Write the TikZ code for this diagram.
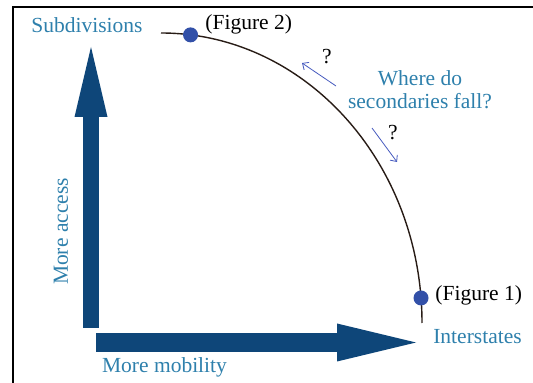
\documentclass[tikz,border=0pt]{standalone}
\usepackage{fontspec}
\setmainfont{Liberation Serif}
\usetikzlibrary{arrows.meta}
\usetikzlibrary{positioning,calc}
\definecolor{navy}{RGB}{14,70,121}
\definecolor{lblblue}{RGB}{46,128,172}
\definecolor{dotblue}{RGB}{50,80,168}
\definecolor{hintblue}{RGB}{70,90,190}
\definecolor{curvebrown}{RGB}{40,28,22}
\tikzstyle{fat} = [draw=navy, line cap=butt]
\tikzstyle{lbl} = [text=lblblue, inner sep=0pt, font=\fontsize{21.5}{23}\selectfont]
\tikzstyle{fig} = [text=black, inner sep=0pt, font=\fontsize{21.5}{23}\selectfont]
\tikzstyle{dot} = [circle, fill=dotblue, minimum size=15pt, inner sep=0pt]
\tikzstyle{hint} = [draw=hintblue, line width=0.8pt,
    -{Straight Barb[length=5pt,width=9pt]}]

\begin{document}
\begin{tikzpicture}[x=1pt,y=1pt]
  \useasboundingbox (0,0) rectangle (533,383);

  % frame
  \draw[line width=1.8pt] (12.7,0) -- (12.7,376) -- (533,376);

  % axes
  \coordinate (o1) at (91,55);
  \coordinate (up) at (91,336);
  \coordinate (o2) at (96,40.5);
  \coordinate (rt) at (416,40.5);
  \draw[fat, line width=16pt,
        -{Triangle[line width=0pt,length=70pt,width=33pt]}] (o1) -- (up);
  \draw[fat, line width=19pt,
        -{Triangle[line width=0pt,length=79pt,width=38pt]}] (o2) -- (rt);

  % trade-off curve
  \coordinate (c) at (161,60);
  \draw[curvebrown, line width=1.4pt] (161,350)
      arc[start angle=90, end angle=0, x radius=261, y radius=290];
  \node[dot] (f2) at ($(c)+(83.5:261 and 290)$) {};
  \node[dot] (f1) at ($(c)+(4.95:261 and 290)$) {};

  \node[fig] (t2) [right=7pt of f2,yshift=10.5pt] {(Figure 2)};
  \node[fig] (t1) [right=6.5pt of f1,yshift=3pt]  {(Figure 1)};

  % labels
  \node[lbl] (sub) at (87,358)   {Subdivisions};
  \node[lbl] (int) at (477.5,46) {Interstates};
  \node[lbl] (mob) at (164.5,16) {More mobility};
  \node[lbl,rotate=90] (acc) at (61,151.5) {More access};
  \node[lbl,align=center] (q) at (420,293.5) {Where do\\secondaries fall?};

  % which way?
  \coordinate (a1) at (336,297);
  \coordinate (b1) at (302,320);
  \coordinate (a2) at (372,255);
  \coordinate (b2) at (397,221);
  \draw[hint] (a1) -- (b1);
  \draw[hint] (a2) -- (b2);
  \node[fig] (q1) at (327,326) {?};
  \node[fig] (q2) at (393,250) {?};
\end{tikzpicture}
\end{document}
